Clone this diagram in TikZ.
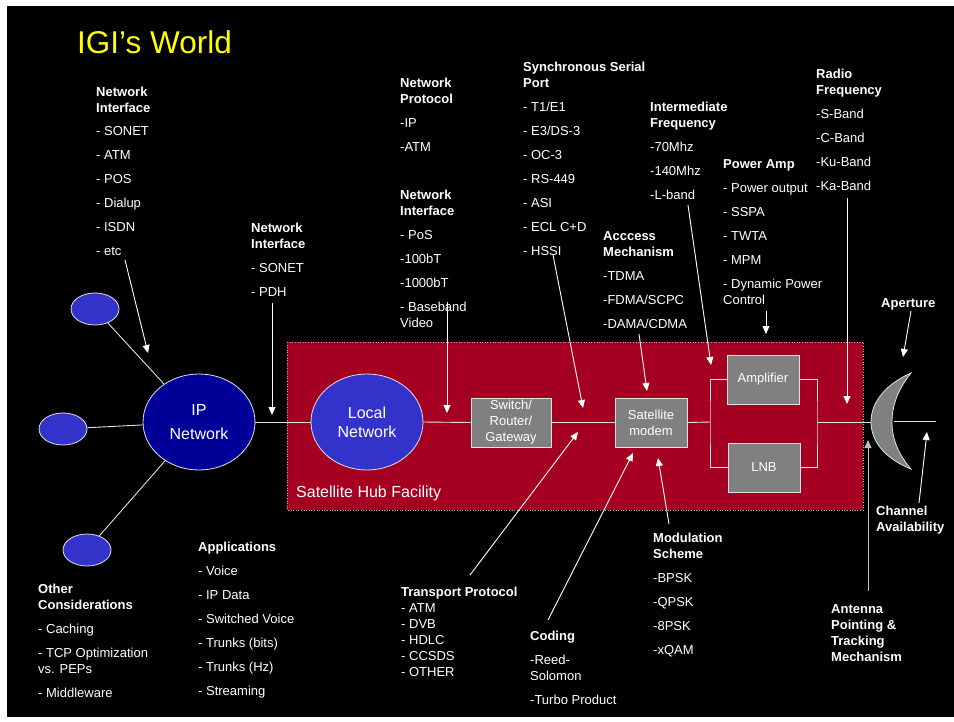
\documentclass[tikz,border=0pt]{standalone}
\usepackage{fontspec}
\setmainfont{Liberation Sans}
\usetikzlibrary{arrows.meta,shapes.geometric}
\definecolor{hubred}{RGB}{165,0,33}
\definecolor{ipblue}{RGB}{0,0,153}
\definecolor{lightblue}{RGB}{51,51,204}
\definecolor{boxgray}{RGB}{128,128,128}
\definecolor{linegray}{RGB}{225,225,225}
\definecolor{dotgray}{RGB}{200,160,170}
\begin{document}
\begin{tikzpicture}[x=1pt,y=-1pt,
  txt/.style={text=white, font=\fontsize{13}{16}\selectfont, align=left, anchor=north west, inner sep=0pt},
  conn/.style={draw=linegray, line width=0.9pt},
  arr/.style={draw=white, line width=0.9pt, -{Triangle[length=8pt,width=7pt]}},
  smallell/.style={ellipse, fill=lightblue, draw=linegray, line width=0.8pt, minimum width=48pt, minimum height=32pt, inner sep=0pt},
  bigell/.style={ellipse, draw=linegray, line width=0.8pt, minimum width=112pt, minimum height=96pt, inner sep=0pt, text=white, align=center},
  graybox/.style={rectangle, fill=boxgray, draw=linegray, line width=0.8pt, minimum height=49pt, inner sep=0pt, text=white, align=center, font=\fontsize{13}{16}\selectfont}
]
% background
\fill[white] (0,0) rectangle (954,721);
\fill[black] (7,6) rectangle (954,717);
\useasboundingbox (0,0) rectangle (954,721);

% title
\node[anchor=base west, inner sep=0pt, text={rgb,255:red,255;green,255;blue,0}, font=\fontsize{31.5}{36}\selectfont] (title) at (77,53) {IGI’s World};

% hub
\fill[hubred] (287,342) rectangle (863,510);
\draw[dotgray, dotted, line width=0.6pt] (287,342) rectangle (863,510);
\node[anchor=base west, inner sep=0pt, text=white, font=\fontsize{16}{19}\selectfont] (hubtxt) at (296,497.5) {Satellite Hub Facility};

% ellipses
\node[smallell] (e1) at (95,309) {};
\node[smallell] (e2) at (63,429) {};
\node[smallell] (e3) at (87,550) {};
\node[bigell, fill=ipblue, font=\fontsize{16}{24}\selectfont] (ipnet) at (199,422) {IP\\Network};
\node[bigell, fill=lightblue, font=\fontsize{16}{19}\selectfont] (localnet) at (367,422) {Local\\Network};

% boxes
\node[graybox, minimum width=80pt] (switch) at (511,422.5) {Switch/\\Router/\\Gateway};
\node[graybox, minimum width=72pt] (modem) at (651,422.5) {Satellite\\modem};
\node[graybox, minimum width=72pt] (amp) at (763,379.5) {Amplifier};
\node[graybox, minimum width=72pt] (lnb) at (764,467.5) {LNB};

% dish
\coordinate (dishL) at (871,422);
\coordinate (dishA) at (894,421);
\coordinate (dishB) at (936,421);
\filldraw[fill=boxgray, draw=linegray, line width=0.8pt] (911,373) .. controls (886,384) and (871,402) .. (dishL) .. controls (871,442) and (886,459) .. (911,469) .. controls (899,455) and (892,440) .. (892,422) .. controls (892,404) and (899,388) .. (911,373) -- cycle;
\draw[conn] (dishA) -- (dishB);

% connectors
\draw[conn] (e1) -- (ipnet);
\draw[conn] (e2) -- (ipnet);
\draw[conn] (e3) -- (ipnet);
\draw[conn] (ipnet.east) -- (localnet.west);
\draw[conn] (localnet.east) -- (switch.west);
\draw[conn] (switch.east) -- (modem.west);
\coordinate (bl) at (710,422);
\coordinate (br) at (817,422);
\draw[conn] (modem.east) -- (bl);
\draw[conn] (amp.west) -| (bl) |- (lnb.west);
\draw[conn] (amp.east) -| (br) |- (lnb.east);
\draw[conn] (br) -- (dishL);

% text blocks
\node[txt] (ni1) at (96,87) {\textbf{Network}\\\textbf{Interface}\\[7pt]- SONET\\[8pt]- ATM\\[8pt]- POS\\[8pt]- Dialup\\[8pt]- ISDN\\[8pt]- etc};
\node[txt] (ni2) at (251,223) {\textbf{Network}\\\textbf{Interface}\\[8pt]- SONET\\[8pt]- PDH};
\node[txt] (np) at (400,78) {\textbf{Network}\\\textbf{Protocol}\\[8pt]-IP\\[8pt]-ATM};
\node[txt] (ni3) at (400,190) {\textbf{Network}\\\textbf{Interface}\\[8pt]- PoS\\[8pt]-100bT\\[8pt]-1000bT\\[8pt]- Baseband\\Video};
\node[txt] (ssp) at (523,62) {\textbf{Synchronous Serial}\\\textbf{Port}\\[8pt]- T1/E1\\[8pt]- E3/DS-3\\[8pt]- OC-3\\[8pt]- RS-449\\[8pt]- ASI\\[8pt]- ECL C+D\\[8pt]- HSSI};
\node[txt] (ifq) at (650,102) {\textbf{Intermediate}\\\textbf{Frequency}\\[8pt]-70Mhz\\[8pt]-140Mhz\\[8pt]-L-band};
\node[txt] (acc) at (603,231) {\textbf{Acccess}\\\textbf{Mechanism}\\[8pt]-TDMA\\[8pt]-FDMA/SCPC\\[8pt]-DAMA/CDMA};
\node[txt] (pamp) at (723,159) {\textbf{Power Amp}\\[8pt]- Power output\\[8pt]- SSPA\\[8pt]- TWTA\\[8pt]- MPM\\[8pt]- Dynamic Power\\Control};
\node[txt] (rf) at (816,69) {\textbf{Radio}\\\textbf{Frequency}\\[8pt]-S-Band\\[8pt]-C-Band\\[8pt]-Ku-Band\\[8pt]-Ka-Band};
\node[txt] (apt) at (881,298) {\textbf{Aperture}};
\node[txt] (chav) at (876,506) {\textbf{Channel}\\\textbf{Availability}};
\node[txt] (ant) at (831,604) {\textbf{Antenna}\\\textbf{Pointing \&}\\\textbf{Tracking}\\\textbf{Mechanism}};
\node[txt] (mod) at (653,533) {\textbf{Modulation}\\\textbf{Scheme}\\[8pt]-BPSK\\[8pt]-QPSK\\[8pt]-8PSK\\[8pt]-xQAM};
\node[txt] (cod) at (530,631) {\textbf{Coding}\\[8pt]-Reed-\\Solomon\\[8pt]-Turbo Product};
\node[txt] (tp) at (401,587) {\textbf{Transport Protocol}\\- ATM\\- DVB\\- HDLC\\- CCSDS\\- OTHER};
\node[txt] (oth) at (38,584) {\textbf{Other}\\\textbf{Considerations}\\[8pt]- Caching\\[8pt]- TCP Optimization\\vs. PEPs\\[8pt]- Middleware};
\node[txt] (app) at (198,542) {\textbf{Applications}\\[8pt]- Voice\\[8pt]- IP Data\\[8pt]- Switched Voice\\[8pt]- Trunks (bits)\\[8pt]- Trunks (Hz)\\[8pt]- Streaming};

% arrows
\coordinate (s1) at (125,260); \coordinate (t1) at (148,353);
\coordinate (s2) at (272,303); \coordinate (t2) at (272,415);
\coordinate (s3) at (447,302); \coordinate (t3) at (447,413);
\coordinate (s4) at (553,255); \coordinate (t4) at (583,408);
\coordinate (s5) at (639,334); \coordinate (t5) at (647,391);
\coordinate (s6) at (688,205); \coordinate (t6) at (711,365);
\coordinate (s7) at (766,311); \coordinate (t7) at (766,334);
\coordinate (s8) at (847,198); \coordinate (t8) at (847,404);
\coordinate (s9) at (911,311); \coordinate (t9) at (903,357);
\coordinate (s10) at (919,503); \coordinate (t10) at (927,432);
\coordinate (s11) at (868,591); \coordinate (t11) at (868,440);
\coordinate (s12) at (470,575); \coordinate (t12) at (578,432);
\coordinate (s13) at (548,620); \coordinate (t13) at (633,453);
\coordinate (s14) at (669,524); \coordinate (t14) at (658,458);
\draw[arr] (s1) -- (t1);
\draw[arr] (s2) -- (t2);
\draw[arr] (s3) -- (t3);
\draw[arr] (s4) -- (t4);
\draw[arr] (s5) -- (t5);
\draw[arr] (s6) -- (t6);
\draw[arr] (s7) -- (t7);
\draw[arr] (s8) -- (t8);
\draw[arr] (s9) -- (t9);
\draw[arr] (s10) -- (t10);
\draw[arr, draw=linegray!85!black, fill=white] (s11) -- (t11);
\draw[arr] (s12) -- (t12);
\draw[arr] (s13) -- (t13);
\draw[arr] (s14) -- (t14);
\end{tikzpicture}
\end{document}
